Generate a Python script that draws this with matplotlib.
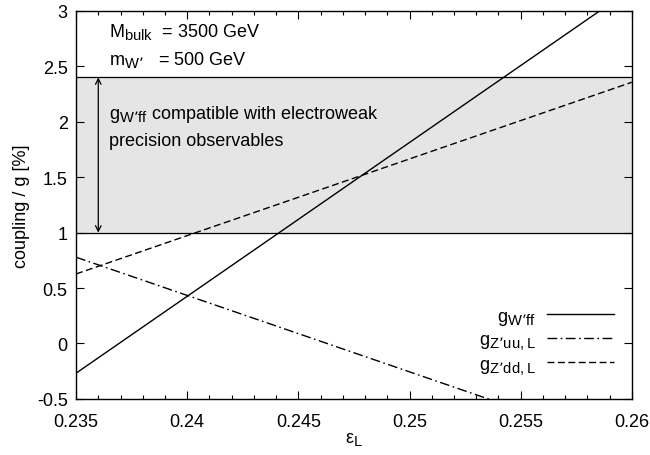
import matplotlib
matplotlib.use("Agg")
import matplotlib.pyplot as plt
import matplotlib._mathtext as mt
from matplotlib.ticker import MultipleLocator, FormatStrFormatter

# gnuplot-like larger subscripts
mt.SHRINK_FACTOR = 0.82

plt.rcParams["font.family"] = ["Liberation Sans", "DejaVu Sans"]
plt.rcParams["mathtext.default"] = "regular"
plt.rcParams["font.size"] = 13

# epsilon_L endpoints and coupling values (straight lines)
eps = [0.235, 0.26]
g_wff = [-0.268, 3.20]
g_zuu = [0.778, -0.945]
g_zdd = [0.627, 2.356]

band_lo, band_hi = 1.0, 2.4

fig = plt.figure(figsize=(6.5, 4.56), dpi=100)
ax = fig.add_axes([0.117, 0.123, 0.855, 0.851])

ax.axhspan(band_lo, band_hi, color="#e5e5e5", zorder=0)
ax.axhline(band_lo, color="black", lw=0.9, zorder=1)
ax.axhline(band_hi, color="black", lw=0.9, zorder=1)

ax.plot(eps, g_wff, color="black", lw=1.0, label="g$_{W’ff}$")
ax.plot(eps, g_zuu, color="black", lw=1.0, dashes=(7, 2.5, 1.2, 2.5),
        label="g$_{Z’uu,L}$")
ax.plot(eps, g_zdd, color="black", lw=1.0, dashes=(5, 2.5),
        label="g$_{Z’dd,L}$")

# arrow over band
ax.annotate("", xy=(0.236, band_lo), xytext=(0.236, band_hi),
            arrowprops=dict(arrowstyle="<->", color="black", lw=0.9,
                            shrinkA=0, shrinkB=0, mutation_scale=10))

ax.text(0.2365, 2.07, "g$_{W’ff}$ compatible with electroweak", fontsize=13,
        va="center")
ax.text(0.2365, 1.83, "precision observables", fontsize=13, va="center")

ax.text(0.2365, 2.82, "M$_{bulk}$  = 3500 GeV", fontsize=13, va="center")
ax.text(0.2365, 2.57, "m$_{W’}$   = 500 GeV", fontsize=13, va="center")

ax.set_xlim(0.235, 0.26)
ax.set_ylim(-0.5, 3)
ax.xaxis.set_major_locator(MultipleLocator(0.005))
ax.xaxis.set_minor_locator(MultipleLocator(0.001))
ax.yaxis.set_major_locator(MultipleLocator(0.5))
ax.xaxis.set_major_formatter(FormatStrFormatter("%g"))
ax.yaxis.set_major_formatter(FormatStrFormatter("%g"))
ax.tick_params(which="both", direction="in", top=True, right=True)
ax.tick_params(which="major", length=6, width=0.8)
ax.tick_params(which="minor", length=3, width=0.8)
ax.tick_params(axis="x", which="major", pad=10)
ax.tick_params(axis="y", which="major", pad=6)
for s in ax.spines.values():
    s.set_linewidth(1.0)

ax.set_xlabel("ε$_L$", labelpad=0)
ax.set_ylabel("coupling / g [%]", labelpad=5)

ax.legend(loc="lower right", frameon=False, markerfirst=False,
          handlelength=3.7, handletextpad=0.6, labelspacing=0.25,
          borderaxespad=0.0, fontsize=13, bbox_to_anchor=(0.981, 0.041))

fig.savefig("out.png", dpi=100)
